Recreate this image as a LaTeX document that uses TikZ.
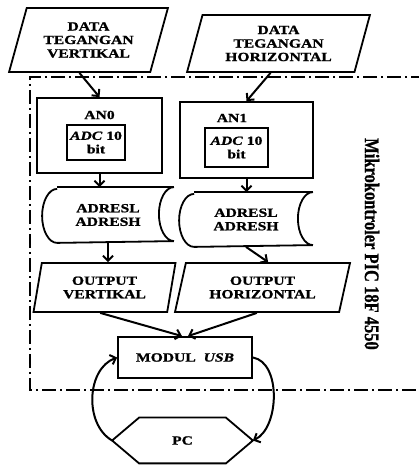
\documentclass[tikz,border=0pt]{standalone}
\usepackage{fontspec}
\setmainfont{Liberation Serif}[FakeStretch=1.25, BoldFeatures={FakeBold=1.2}, BoldItalicFeatures={FakeBold=1.2}]
\newfontfamily\vertfont{Liberation Serif}[BoldFeatures={FakeBold=1}]
\usepackage{tikz}
\usetikzlibrary{arrows.meta,positioning,shapes.geometric,calc}

\begin{document}
\begin{tikzpicture}[
    x=1pt, y=1pt,
    font=\fontsize{12.5}{13.5}\selectfont\bfseries,
    line width=1.8pt,
    para/.style={draw, trapezium, trapezium stretches=true, align=center, inner sep=0pt},
    box/.style={draw, align=center, inner sep=0pt},
    store/.style={align=center, inner sep=0pt},
    arr/.style={-{Straight Barb[length=5pt,width=10pt]}, line width=2pt},
    border/.style={line width=1.4pt, dash pattern=on 14pt off 4pt on 2pt off 4pt}
]
\useasboundingbox (0,0) rectangle (418,466);

\node[para, trapezium left angle=70, trapezium right angle=110, minimum width=159pt, minimum height=64pt] (dataV) at (88.5,426) {DATA\\TEGANGAN\\VERTIKAL};
\node[para, trapezium left angle=73, trapezium right angle=107, minimum width=183pt, minimum height=57pt] (dataH) at (278.5,422.5) {DATA\\TEGANGAN\\HORIZONTAL};

\draw[border] (425,389) -- (30,389) -- (30,76) -- (425,76);
\node[rotate=-90] (mcu) at (372,222) {\vertfont\fontsize{16.5}{18}\selectfont\scalebox{1}[1.25]{Mikrokontroler PIC 18F 4550}};

\node[box, minimum width=125pt, minimum height=75pt] (an0) at (99.5,330.5) {};
\node (an0txt) at (99.5,351) {AN0};
\node[box, minimum width=58pt, minimum height=35pt] (adc0) at (96,323.5) {\textit{ADC} 10\\bit};
\node[box, minimum width=133pt, minimum height=76pt] (an1) at (246.5,326) {};
\node (an1txt) at (232,348) {AN1};
\node[box, minimum width=63pt, minimum height=39pt] (adc1) at (236.5,318.5) {\textit{ADC} 10\\bit};

\node[store, minimum width=130pt, minimum height=54pt] (st1) at (108,251) {ADRESL\\ADRESH};
\node[store, minimum width=132pt, minimum height=53pt] (st2) at (246,246.5) {ADRESL\\ADRESH};
\foreach \s/\r in {st1/27pt, st2/26.5pt}
  \draw ([xshift=15pt]\s.north west) -- (\s.north east)
    arc[start angle=90, end angle=270, x radius=15pt, y radius=\r]
    -- ([xshift=15pt]\s.south west)
    arc[start angle=270, end angle=90, x radius=15pt, y radius=\r];

\node[para, trapezium left angle=76, trapezium right angle=104, minimum width=143pt, minimum height=49pt] (out1) at (104.5,178.5) {OUTPUT\\VERTIKAL};
\node[para, trapezium left angle=71, trapezium right angle=109, minimum width=175pt, minimum height=49pt] (out2) at (262.5,178.5) {OUTPUT\\HORIZONTAL};

\node[box, minimum width=134pt, minimum height=41pt] (usb) at (185,108.5) {MODUL\ \ \textit{USB}};

\node[minimum width=139pt, minimum height=44pt, inner sep=0pt] (pc) at (182.5,25.5) {PC};
\draw (pc.west) -- ([xshift=27pt]pc.north west) -- ([xshift=-27pt]pc.north east) -- (pc.east)
  -- ([xshift=-27pt]pc.south east) -- ([xshift=27pt]pc.south west) -- cycle;

\draw[arr] (dataV.bottom side) -- (an0.north);
\draw[arr] (dataH.bottom side) -- (an1.north);
\draw[arr] (an0.south) -- (an0.south |- st1.north);
\draw[arr] (an1.south) -- (an1.south |- st2.north);
\draw[arr] (st1.south) -- (st1.south |- out1.north);
\draw[arr] (st2.south) -- (out2.top side);
\draw[arr] (out1.bottom side) -- ([xshift=-3pt]usb.north);
\draw[arr] (out2.bottom side) -- ([xshift=3pt]usb.north);
\draw[arr] (usb.east) to[out=-10, in=25, looseness=0.9] (pc.east);
\draw[arr] (pc.west) to[out=150, in=200, looseness=1] (usb.west);
\end{tikzpicture}
\end{document}
